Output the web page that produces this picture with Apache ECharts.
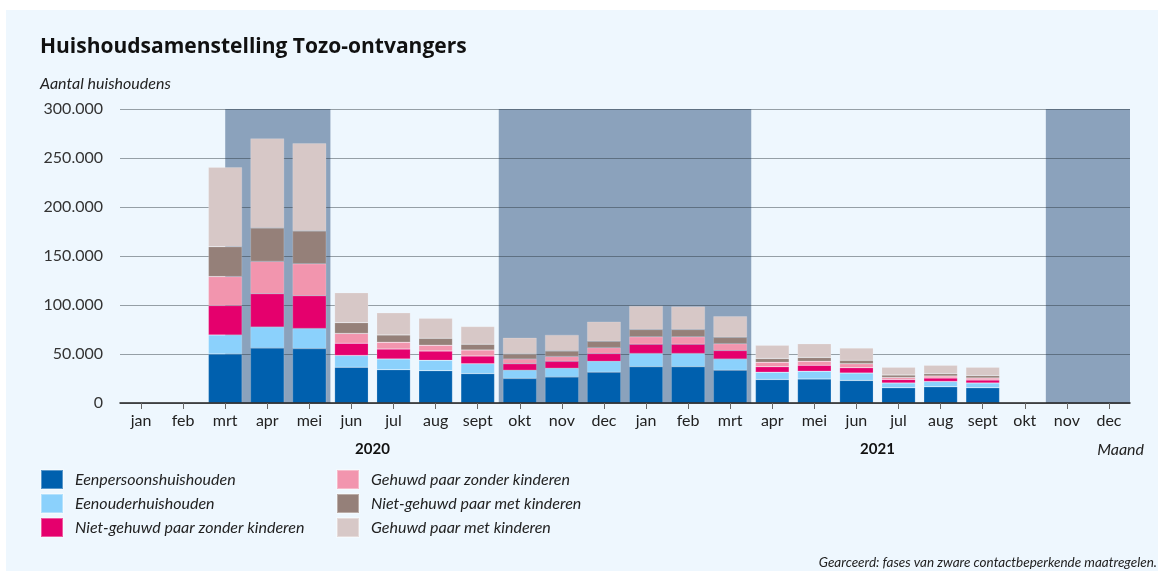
<!DOCTYPE html>
<html>
<head>
<meta charset="utf-8">
<script src="https://cdn.jsdelivr.net/npm/echarts@6/dist/echarts.min.js"></script>
<style>
  html, body { margin: 0; padding: 0; background: #ffffff; }
  #panel { position: absolute; left: 6px; top: 10px; width: 1152px; height: 561px; background: #eef7fe; }
  #chart { position: absolute; left: 0; top: 0; width: 1164px; height: 572px; }
</style>
</head>
<body>
<div id="panel"></div>
<div id="chart"></div>
<script>
// ---- data ----
const months = ['jan','feb','mrt','apr','mei','jun','jul','aug','sept','okt','nov','dec',
                'jan','feb','mrt','apr','mei','jun','jul','aug','sept','okt','nov','dec'];
const years = ['2020', '2021'];
const yTicks = [0, 50000, 100000, 150000, 200000, 250000, 300000];

const eenpersoons      = [null,null,50000,56000,55500,36500,34000,33000,30000,25000,26500,31500, 37000,37000,33500,24000,24500,23000,15500,16500,15500,null,null,null];
const eenouder         = [null,null,19500,21500,20500,12000,11000,10500,10000, 8500, 9000,11000, 13500,13500,11500, 7500, 8000, 7500, 5000, 5500, 5000,null,null,null];
const nietGehuwdZonder = [null,null,30000,34000,33500,12500,10000, 9500, 8000, 6500, 7000, 8000,  9500, 9500, 8500, 5500, 6000, 5500, 3500, 3500, 3000,null,null,null];
const gehuwdZonder     = [null,null,29500,33000,32500,10000, 7000, 6000, 6000, 5000, 5000, 6000,  7500, 7500, 7000, 4500, 4000, 4000, 2000, 2000, 2000,null,null,null];
const nietGehuwdMet    = [null,null,30500,34000,33500,11000, 7500, 7000, 6000, 5000, 5500, 6500,  7500, 7500, 6500, 4000, 4000, 3500, 2500, 2500, 2500,null,null,null];
const gehuwdMet        = [null,null,81000,91500,89500,30500,22500,20500,18000,16500,16500,20000, 24000,23500,21500,13500,14000,12500, 8000, 8500, 8500,null,null,null];

const seriesNames = ['Eenpersoonshuishouden','Eenouderhuishouden','Niet-gehuwd paar zonder kinderen',
                     'Gehuwd paar zonder kinderen','Niet-gehuwd paar met kinderen','Gehuwd paar met kinderen'];
const seriesData = [eenpersoons, eenouder, nietGehuwdZonder, gehuwdZonder, nietGehuwdMet, gehuwdMet];
const colors = ['#0060ae','#8bd1fc','#e5006d','#f295ae','#958079','#d7c8c7'];

// shaded phases (in month units from jan 2020 = 0)
const shadeStart = [2.5, 9, 22];
const shadeEnd   = [5, 15, 24];

const FONT = 'Lato, "Noto Sans", sans-serif';
const TFONT = '"Open Sans", Lato, sans-serif';
const chart = echarts.init(document.getElementById('chart'), null, {renderer: 'canvas'});

const barSeries = seriesNames.map((n, i) => ({
  name: n, type: 'bar', stack: 'total', xAxisIndex: 0, yAxisIndex: 0,
  data: seriesData[i], barWidth: '80%', z: 2,
  itemStyle: { color: colors[i], borderColor: 'rgba(255,255,255,0.35)', borderWidth: 0.5 },
  emphasis: { disabled: true }
}));

const legendText = { fontFamily: FONT, fontSize: 16, fontStyle: 'italic', color: '#222', lineHeight: 19, padding: [0,0,0,7] };

const option = {
  animation: false,
  backgroundColor: 'transparent',
  color: colors,
  title: [
    { text: 'Huishoudsamenstelling Tozo-ontvangers', left: 35, top: 32,
      textStyle: { fontFamily: TFONT, fontSize: 21, fontWeight: 'bold', color: '#111' } },
    { text: 'Aantal huishoudens', left: 35, top: 71,
      textStyle: { fontFamily: FONT, fontSize: 16, fontStyle: 'italic', fontWeight: 'normal', color: '#222' } }
  ],
  legend: [
    { data: seriesNames.slice(0, 3), orient: 'vertical', left: 35, top: 464, itemWidth: 22, itemHeight: 19, itemGap: 3,
      icon: 'rect', textStyle: legendText },
    { data: seriesNames.slice(3), orient: 'vertical', left: 331, top: 464, itemWidth: 22, itemHeight: 19, itemGap: 3,
      icon: 'rect', textStyle: legendText }
  ],
  grid: { left: 120, right: 34, top: 109, bottom: 169, containLabel: false },
  xAxis: [
    { type: 'category', data: months, position: 'bottom', z: 3,
      axisLine: { show: true, lineStyle: { color: '#222', width: 1.5 } },
      axisTick: { show: true, alignWithLabel: true, length: 6, lineStyle: { color: '#666' } },
      axisLabel: { fontFamily: FONT, fontSize: 16, color: '#222', margin: 10, interval: 0 } },
    { type: 'category', data: years, position: 'bottom', offset: 31,
      axisLine: { show: false }, axisTick: { show: false },
      axisLabel: { fontFamily: FONT, fontSize: 15, fontWeight: 'bold', color: '#111', margin: 8 } },
    { type: 'value', min: 0, max: 24, show: false }
  ],
  yAxis: [
    { type: 'value', min: 0, max: 300000, interval: 50000, z: 1,
      axisLine: { show: false }, axisTick: { show: false },
      splitLine: { show: true, lineStyle: { color: 'rgba(40,50,60,0.45)', width: 1 } },
      axisLabel: { fontFamily: FONT, fontSize: 16, color: '#333', margin: 17,
        formatter: v => yTicks.includes(v) ? (v === 0 ? '0' : v.toLocaleString('de-DE')) : '' } }
  ],
  graphic: [
    { type: 'text', right: 20, top: 442, style: { text: 'Maand', font: 'italic 16px ' + FONT, fill: '#222' } },
    { type: 'text', right: 7, top: 556, style: { text: 'Gearceerd: fases van zware contactbeperkende maatregelen.', font: 'italic 13.5px ' + FONT, fill: '#222' } }
  ],
  series: [
    { type: 'custom', xAxisIndex: 2, yAxisIndex: 0, z: 0, silent: true,
      data: shadeStart.map((s, i) => [s, shadeEnd[i]]),
      renderItem: function (params, api) {
        const p1 = api.coord([api.value(0), 300000]);
        const p2 = api.coord([api.value(1), 0]);
        return { type: 'rect', shape: { x: p1[0], y: p1[1], width: p2[0] - p1[0], height: p2[1] - p1[1] },
                 style: { fill: '#8ba2bc' } };
      } },
    ...barSeries
  ]
};
chart.setOption(option);
</script>
</body>
</html>
